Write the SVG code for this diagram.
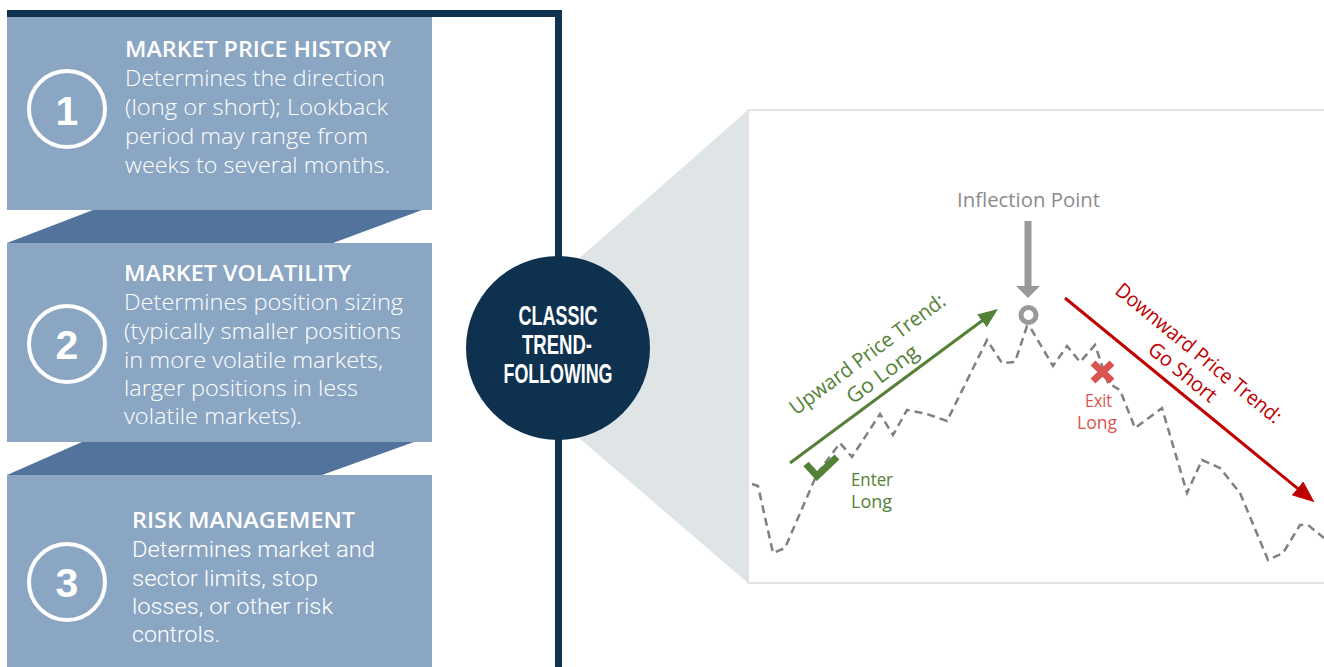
<svg xmlns="http://www.w3.org/2000/svg" width="1324" height="667" viewBox="0 0 1324 667">
<style>
.box{fill:#8AA6C3}
.band{fill:#52749C}
.num{fill:none;stroke:#fff;stroke-width:4}
.digit{font-family:"Liberation Sans",Arial,sans-serif;font-weight:bold;font-size:41px;fill:#fff;text-anchor:middle}
.ttl{font-family:"Open Sans","Noto Sans",sans-serif;font-weight:600;font-size:22px;fill:#fff}
.body{font-family:"Open Sans","Noto Sans",sans-serif;font-weight:300;font-size:22px;fill:#fff}
.body3{font-family:Roboto,"Liberation Sans",sans-serif;font-weight:300;font-size:22px;fill:#fff}
.hub{font-family:"Liberation Sans",Arial,sans-serif;font-weight:bold;font-size:27px;fill:#fff;text-anchor:middle}
.lbl{font-family:"Open Sans","Noto Sans",sans-serif;font-size:20.5px;text-anchor:middle}
.sm{font-family:"Open Sans","Noto Sans",sans-serif;font-size:17.5px}
</style>
<defs>
<marker id="ahG" markerUnits="userSpaceOnUse" markerWidth="22" markerHeight="18" refX="4" refY="8" orient="auto" viewBox="0 0 22 18">
<path d="M0,0 L20,8 L0,16 z" fill="#538135"/>
</marker>
<marker id="ahR" markerUnits="userSpaceOnUse" markerWidth="24" markerHeight="20" refX="4" refY="9" orient="auto" viewBox="0 0 24 20">
<path d="M0,0 L22,9 L0,18 z" fill="#C00000"/>
</marker>
</defs>
<rect width="1324" height="667" fill="#fff"/>

<g id="step1">
<rect class="box" x="7" y="17" width="425" height="193"/>
<circle class="num" cx="67" cy="109" r="38"/>
<text class="digit" x="67" y="125">1</text>
<text class="ttl" x="125" y="57" textLength="266" lengthAdjust="spacingAndGlyphs">MARKET PRICE HISTORY</text>
<text class="body" x="125" y="86" textLength="260" lengthAdjust="spacingAndGlyphs">Determines the direction</text>
<text class="body" x="125" y="115" textLength="263" lengthAdjust="spacingAndGlyphs">(long or short); Lookback</text>
<text class="body" x="125" y="144" textLength="243" lengthAdjust="spacingAndGlyphs">period may range from</text>
<text class="body" x="125" y="173" textLength="265" lengthAdjust="spacingAndGlyphs">weeks to several months.</text>
</g>
<polygon class="band" points="93,210 422,210 333,243 7,243"/>

<g id="step2">
<rect class="box" x="7" y="243" width="425" height="199"/>
<circle class="num" cx="67" cy="344" r="38"/>
<text class="digit" x="67" y="359">2</text>
<text class="ttl" x="124" y="281" textLength="227" lengthAdjust="spacingAndGlyphs">MARKET VOLATILITY</text>
<text class="body" x="124" y="310" textLength="279" lengthAdjust="spacingAndGlyphs">Determines position sizing</text>
<text class="body" x="124" y="339" textLength="277" lengthAdjust="spacingAndGlyphs">(typically smaller positions</text>
<text class="body" x="124" y="368" textLength="259" lengthAdjust="spacingAndGlyphs">in more volatile markets,</text>
<text class="body" x="124" y="396" textLength="234" lengthAdjust="spacingAndGlyphs">larger positions in less</text>
<text class="body" x="124" y="424" textLength="178" lengthAdjust="spacingAndGlyphs">volatile markets).</text>
</g>
<polygon class="band" points="82,442 414,442 322,475 7,475"/>

<g id="step3">
<rect class="box" x="7" y="475" width="425" height="192"/>
<circle class="num" cx="67" cy="582" r="38"/>
<text class="digit" x="67" y="597">3</text>
<text class="ttl" x="132" y="528" textLength="223" lengthAdjust="spacingAndGlyphs">RISK MANAGEMENT</text>
<text class="body3" x="132" y="557" textLength="243" lengthAdjust="spacingAndGlyphs">Determines market and</text>
<text class="body3" x="132" y="586" textLength="186" lengthAdjust="spacingAndGlyphs">sector limits, stop</text>
<text class="body3" x="132" y="614" textLength="201" lengthAdjust="spacingAndGlyphs">losses, or other risk</text>
<text class="body3" x="132" y="642" textLength="88" lengthAdjust="spacingAndGlyphs">controls.</text>
</g>

<polygon id="spotlight" points="558,277 748,110 748,583 558,420" fill="#DFE4E7"/>

<g id="frame" fill="#0F3250">
<rect x="7" y="10" width="555" height="7"/>
<rect x="555" y="10" width="7" height="657"/>
</g>

<g id="hub">
<circle cx="558" cy="348" r="92" fill="#0E3150"/>
<text class="hub" x="558" y="325" textLength="79" lengthAdjust="spacingAndGlyphs">CLASSIC</text>
<text class="hub" x="557" y="354" textLength="70" lengthAdjust="spacingAndGlyphs">TREND-</text>
<text class="hub" x="558" y="383" textLength="109" lengthAdjust="spacingAndGlyphs">FOLLOWING</text>
</g>

<g id="chart">
<rect x="748" y="110" width="580" height="473" fill="#fff" stroke="#E3E3E3" stroke-width="2"/>
<path id="price" d="M752,484 L758,486 L773,553 L785,548 L817,474 L840,443 L852,457 L880,414 L893,435 L907,410 L927,414 L947,421 L987,340 L1002,363 L1015,362 L1027,326 L1030,327 L1053,366 L1067,346 L1080,362 L1095,345 L1108,383 L1120,390 L1135,428 L1162,408 L1187,493 L1202,460 L1220,468 L1240,493 L1268,560 L1283,553 L1300,525 L1308,525 L1324,538" fill="none" stroke="#808080" stroke-width="2.5" stroke-dasharray="8 5"/>
</g>

<g id="connectors">
<path d="M1028,221 L1028,287" stroke="#999" stroke-width="7" fill="none"/>
<polygon points="1016,286 1040,286 1028,298" fill="#999"/>
<line x1="790" y1="463" x2="985.1" y2="318.5" stroke="#538135" stroke-width="3" marker-end="url(#ahG)"/>
<line x1="1065" y1="298" x2="1300.6" y2="490.9" stroke="#C00000" stroke-width="3" marker-end="url(#ahR)"/>
</g>

<g id="inflection">
<circle cx="1028.5" cy="315" r="7.5" fill="#fff" stroke="#999" stroke-width="5"/>
<text x="1028.5" y="207" font-family="'Open Sans','Noto Sans',sans-serif" font-size="20" fill="#8C8C8C" text-anchor="middle" textLength="143" lengthAdjust="spacingAndGlyphs">Inflection Point</text>
</g>

<g id="uptrend" fill="#538135">
<text class="lbl" transform="translate(868,355) rotate(-36.5)" x="0" y="6" textLength="188" lengthAdjust="spacingAndGlyphs">Upward Price Trend:</text>
<text class="lbl" transform="translate(883,375) rotate(-36.5)" x="0" y="6" textLength="84" lengthAdjust="spacingAndGlyphs">Go Long</text>
</g>

<g id="downtrend" fill="#C00000">
<text class="lbl" transform="translate(1198,354) rotate(39.3)" x="0" y="6" textLength="208" lengthAdjust="spacingAndGlyphs">Downward Price Trend:</text>
<text class="lbl" transform="translate(1182,373) rotate(39.3)" x="0" y="6" textLength="82" lengthAdjust="spacingAndGlyphs">Go Short</text>
</g>

<g id="enter-long">
<polyline points="806,464 817,476 837,457" fill="none" stroke="#538135" stroke-width="7"/>
<text class="sm" x="851" y="486" fill="#538135" textLength="42" lengthAdjust="spacingAndGlyphs">Enter</text>
<text class="sm" x="851" y="508" fill="#538135" textLength="41" lengthAdjust="spacingAndGlyphs">Long</text>
</g>

<g id="exit-long">
<path d="M1093,363 L1112,381 M1112,363 L1093,381" stroke="#D9534F" stroke-width="7" fill="none"/>
<text class="sm" x="1098.5" y="407" fill="#D9534F" text-anchor="middle" textLength="27" lengthAdjust="spacingAndGlyphs">Exit</text>
<text class="sm" x="1097" y="429" fill="#D9534F" text-anchor="middle" textLength="40" lengthAdjust="spacingAndGlyphs">Long</text>
</g>
</svg>
